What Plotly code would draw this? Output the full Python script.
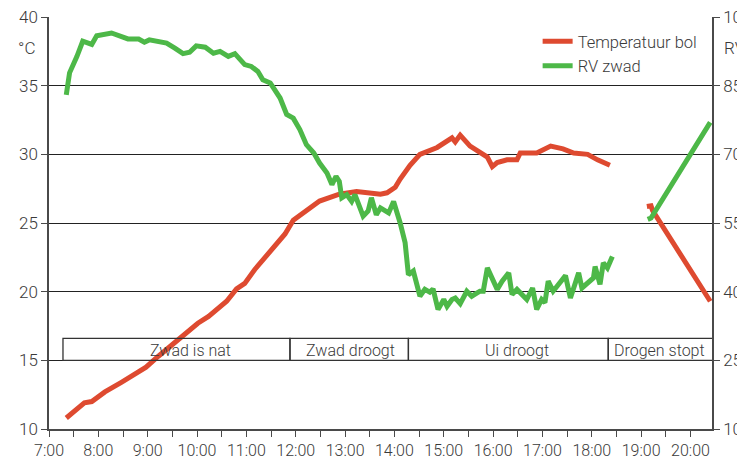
import plotly.graph_objects as go

# ---------------- data ----------------
temp_time_1 = ["7:21", "7:31", "7:43", "7:52", "8:08", "8:28", "8:44", "8:58", "9:13", "9:25",
               "9:39", "9:49", "10:01", "10:14", "10:26", "10:36", "10:48", "10:58", "11:10", "11:23",
               "11:35", "11:47", "11:57", "12:09", "12:29", "12:53", "13:14", "13:43", "13:51", "14:01",
               "14:07", "14:19", "14:31", "14:52", "15:04", "15:10", "15:14", "15:20", "15:32", "15:44",
               "15:53", "15:59", "16:05", "16:17", "16:29", "16:33", "16:53", "17:10", "17:25", "17:38",
               "17:55", "18:07", "18:22"]
temp_vals_1 = [10.8, 11.3, 11.9, 12.0, 12.7, 13.4, 14.0, 14.5, 15.3, 15.9,
               16.5, 17.0, 17.7, 18.2, 18.8, 19.3, 20.2, 20.6, 21.6, 22.5,
               23.4, 24.2, 25.2, 25.7, 26.6, 27.1, 27.3, 27.1, 27.2, 27.6,
               28.2, 29.2, 30.0, 30.5, 30.9, 31.2, 30.9, 31.4, 30.6, 30.2,
               29.8, 29.1, 29.4, 29.6, 29.6, 30.1, 30.1, 30.6, 30.4, 30.1,
               30.0, 29.6, 29.2]
temp_time_2 = ["19:07", "19:12", "19:14", "20:24"]
temp_vals_2 = [26.2, 26.25, 25.9, 19.3]

rv_time_1 = ["7:21", "7:25", "7:34", "7:41", "7:52", "7:58", "8:16", "8:36", "8:49", "8:56",
             "9:02", "9:23", "9:33", "9:43", "9:51", "9:59", "10:10", "10:20", "10:28", "10:38",
             "10:46", "10:58", "11:06", "11:14", "11:20", "11:29", "11:41", "11:49", "11:57", "12:05",
             "12:13", "12:22", "12:29", "12:38", "12:44", "12:49", "12:53", "12:56", "13:02", "13:08",
             "13:12", "13:22", "13:28", "13:32", "13:38", "13:43", "13:53", "13:59", "14:07", "14:13",
             "14:17", "14:23", "14:31", "14:37", "14:43", "14:47", "14:53", "15:00", "15:04", "15:10",
             "15:14", "15:20", "15:28", "15:34", "15:44", "15:48", "15:53", "16:05", "16:11", "16:19",
             "16:23", "16:29", "16:41", "16:48", "16:53", "16:59", "17:03", "17:07", "17:13", "17:28",
             "17:34", "17:44", "17:48", "18:02", "18:04", "18:10", "18:14", "18:19", "18:25"]
rv_vals_1 = [83.0, 87.8, 91.4, 94.7, 94.0, 95.9, 96.5, 95.2, 95.2, 94.5,
             95.0, 94.3, 93.2, 92.0, 92.3, 93.7, 93.4, 92.1, 92.5, 91.4,
             92.0, 89.6, 89.2, 88.1, 86.3, 85.6, 82.3, 78.7, 77.9, 75.4,
             72.1, 70.3, 68.1, 65.9, 63.4, 65.2, 64.1, 60.5, 61.2, 59.7,
             61.2, 56.5, 57.6, 60.5, 56.8, 58.3, 57.2, 59.7, 55.0, 50.7,
             43.7, 44.5, 39.0, 40.5, 39.9, 40.6, 36.1, 38.3, 36.8, 38.3,
             38.6, 37.4, 40.1, 39.0, 40.1, 40.1, 45.2, 40.5, 42.3, 44.1,
             39.4, 40.5, 38.3, 40.8, 36.1, 38.3, 37.6, 42.3, 40.1, 43.5,
             38.6, 44.1, 40.8, 43.0, 45.5, 41.6, 46.3, 45.2, 47.7]
rv_time_2 = ["19:08", "19:12", "20:24"]
rv_vals_2 = [55.8, 56.1, 77.0]

phase_labels = ["Zwad is nat", "Zwad droogt", "Ui droogt", "Drogen stopt"]
phase_edges = ["7:17", "11:53", "14:17", "18:20", "20:27"]
phase_label_at = ["9:52", "13:06", "16:29", "19:22"]
phase_band = [15.0, 16.6]

x_tick_labels = ["7:00", "8:00", "9:00", "10:00", "11:00", "12:00", "13:00",
                 "14:00", "15:00", "16:00", "17:00", "18:00", "19:00", "20:00"]
y_left_ticks = [10, 15, 20, 25, 30, 35, 40]
y_right_ticks = [10, 25, 40, 55, 70, 85, 100]


def hrs(s):
    h, m = s.split(":")
    return int(h) + int(m) / 60.0


RED = "#DE4A30"
GREEN = "#4DB848"
FONT = "Roboto, sans-serif"
TXT = "#3a3a3a"
AX = "#4a4a4a"
W = 300

tx = [hrs(t) for t in temp_time_1] + [None] + [hrs(t) for t in temp_time_2]
ty = temp_vals_1 + [None] + temp_vals_2
rx = [hrs(t) for t in rv_time_1] + [None] + [hrs(t) for t in rv_time_2]
ry = rv_vals_1 + [None] + rv_vals_2

fig = go.Figure()
fig.add_trace(go.Scatter(x=tx, y=ty, mode="lines", name="Temperatuur bol",
                         line=dict(color=RED, width=5), connectgaps=False, yaxis="y"))
fig.add_trace(go.Scatter(x=rx, y=ry, mode="lines", name="RV zwad",
                         line=dict(color=GREEN, width=5), connectgaps=False, yaxis="y2"))

# phase boxes
edges = [hrs(e) for e in phase_edges]
for i, lab in enumerate(phase_labels):
    fig.add_shape(type="rect", xref="x", yref="y", x0=edges[i], x1=edges[i + 1],
                  y0=phase_band[0], y1=phase_band[1],
                  line=dict(color="#333333", width=1.3), fillcolor="rgba(255,255,255,0)", layer="above")
    fig.add_annotation(x=hrs(phase_label_at[i]), y=(phase_band[0] + phase_band[1]) / 2,
                       xref="x", yref="y", text=lab, showarrow=False,
                       font=dict(family=FONT, size=16, color=TXT, weight=W), yshift=-1)

fig.add_annotation(x=-0.034, y=0.925, xref="paper", yref="paper", text="°C", showarrow=False,
                   font=dict(family=FONT, size=17, color=TXT, weight=W), xanchor="center", yanchor="middle")
fig.add_annotation(x=1.0155, y=0.925, xref="paper", yref="paper", text="RV", showarrow=False,
                   font=dict(family=FONT, size=17, color=TXT, weight=W), xanchor="left", yanchor="middle")

fig.update_layout(
    width=737, height=464,
    margin=dict(l=49, r=25, t=17, b=35, autoexpand=False),
    paper_bgcolor="white", plot_bgcolor="white",
    font=dict(family=FONT, size=16, color=TXT, weight=W),
    showlegend=True,
    legend=dict(x=0.737, y=0.983, xanchor="left", yanchor="top", bgcolor="rgba(0,0,0,0)",
                font=dict(family=FONT, size=16.5, color=TXT, weight=W), itemwidth=30, tracegroupgap=0),
    xaxis=dict(range=[7.0, 20.436], tickmode="array", automargin=False,
               tickvals=[hrs(t) for t in x_tick_labels], ticktext=x_tick_labels,
               ticks="outside", ticklen=6, tickcolor=AX, tickwidth=1.2,
               minor=dict(dtick=0.5, tick0=7, ticks="outside", ticklen=6, tickcolor=AX, tickwidth=1.2,
                          showgrid=False),
               showline=True, linecolor=AX, linewidth=1.5, showgrid=False, zeroline=False,
               tickfont=dict(family=FONT, size=16, color=TXT, weight=W)),
    yaxis=dict(range=[10, 40], tickmode="array", tickvals=y_left_ticks, automargin=False,
               ticks="outside", ticklen=6, tickcolor=AX, tickwidth=1.2,
               showline=True, linecolor=AX, linewidth=1.5,
               showgrid=True, gridcolor="#222222", gridwidth=1.3, zeroline=False,
               tickfont=dict(family=FONT, size=17, color=TXT, weight=W)),
    yaxis2=dict(range=[10, 100], tickmode="array", tickvals=y_right_ticks, overlaying="y", side="right",
                automargin=False,
                ticks="outside", ticklen=6, tickcolor=AX, tickwidth=1.2,
                showline=True, linecolor=AX, linewidth=1.5, showgrid=False, zeroline=False,
                tickfont=dict(family=FONT, size=17, color=TXT, weight=W)),
)

fig.write_html("out.html", config={"displayModeBar": False},
               post_script="document.body.style.margin='0';document.body.style.overflow='hidden';")
